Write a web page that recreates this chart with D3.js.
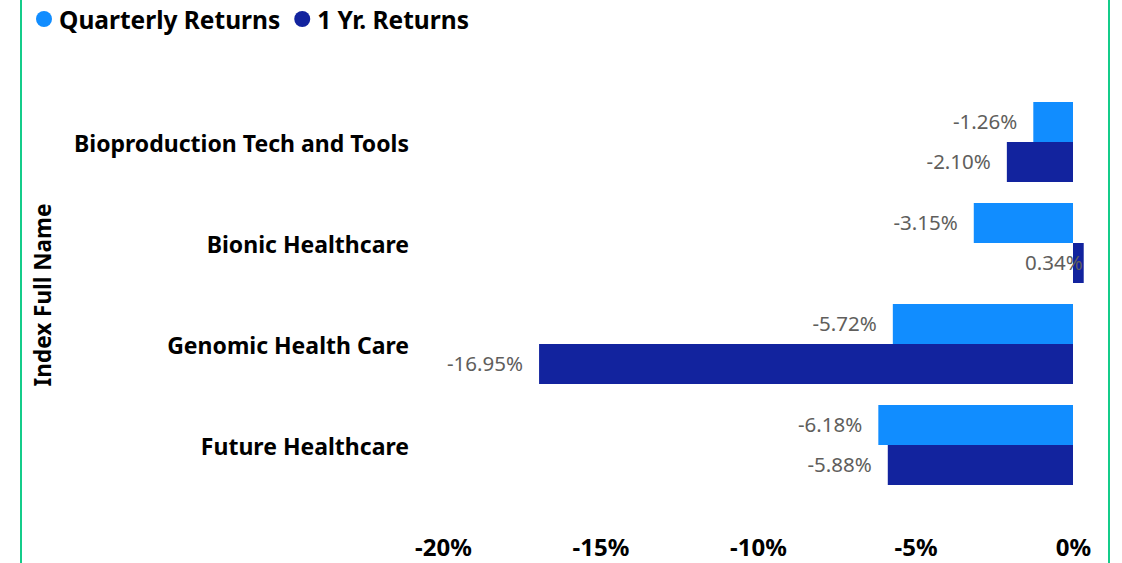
<!DOCTYPE html>
<html>
<head>
<meta charset="utf-8">
<script src="https://cdn.jsdelivr.net/npm/d3@7"></script>
<style>
	body { margin: 0; background: #fff; }
	svg { display: block; }
	text { font-family: 'Segoe UI', 'Noto Sans', sans-serif; }
</style>
</head>
<body>
<svg id="main_svg"></svg>
<script>
const WIDTH = 1122;
const HEIGHT = 563;
const MARGIN_LEFT = 443;
const PLOT_WIDTH = 630;
const MARGIN_TOP = 91.5;
const MARGIN_BOTTOM = 67.5;

const categories = ['Bioproduction Tech and Tools', 'Bionic Healthcare', 'Genomic Health Care', 'Future Healthcare'];
const series = ['Quarterly Returns', '1 Yr. Returns'];
const quarterly = [-1.26, -3.15, -5.72, -6.18];
const yearly = [-2.10, 0.34, -16.95, -5.88];
const x_ticks = [-20, -15, -10, -5, 0];
const colors = ['#118DFF', '#12239E'];

const svg = d3.select('#main_svg').attr('width', WIDTH).attr('height', HEIGHT);

// frame lines left and right
svg.append('line').attr('x1', 21).attr('x2', 21).attr('y1', 0).attr('y2', HEIGHT)
	.style('stroke', '#14CC8A').style('stroke-width', 2);
svg.append('line').attr('x1', 1109).attr('x2', 1109).attr('y1', 0).attr('y2', HEIGHT)
	.style('stroke', '#14CC8A').style('stroke-width', 2);

const x_scale = d3.scaleLinear()
	.domain([-20, 0])
	.range([MARGIN_LEFT, MARGIN_LEFT + PLOT_WIDTH]);

const y_scale = d3.scaleBand()
	.domain(categories)
	.range([MARGIN_TOP, HEIGHT - MARGIN_BOTTOM])
	.paddingInner(0.208)
	.paddingOuter(0.104);

const sub_scale = d3.scaleBand()
	.domain(series)
	.range([0, y_scale.bandwidth()]);

// Zip data
const dataset = categories.map((c, i) => ({cat: c, values: [quarterly[i], yearly[i]]}));

const groups = svg.selectAll('.cat')
	.data(dataset)
	.enter()
	.append('g')
	.attr('class', 'cat')
	.attr('transform', d => `translate(0,${y_scale(d.cat)})`);

groups.selectAll('rect')
	.data(d => d.values.map((v, i) => ({s: series[i], v: v, i: i})))
	.enter()
	.append('rect')
	.attr('x', d => x_scale(Math.min(0, d.v)))
	.attr('y', d => sub_scale(d.s))
	.attr('width', d => Math.abs(x_scale(d.v) - x_scale(0)))
	.attr('height', sub_scale.bandwidth())
	.style('fill', d => colors[d.i]);

groups.selectAll('.lbl')
	.data(d => d.values.map((v, i) => ({s: series[i], v: v, i: i})))
	.enter()
	.append('text')
	.attr('class', 'lbl')
	.attr('x', d => d.v < 0 ? x_scale(d.v) - 16 : x_scale(d.v) - 1)
	.attr('y', d => sub_scale(d.s) + sub_scale.bandwidth() / 2)
	.attr('dy', '0.35em')
	.attr('text-anchor', 'end')
	.attr('font-size', '20.5px')
	.style('fill', '#605E5C')
	.text(d => d.v.toFixed(2) + '%');

// category labels
const y_axis = svg.append('g')
	.attr('transform', `translate(409,0)`)
	.call(d3.axisLeft(y_scale).tickSize(0).tickPadding(0));
y_axis.select('.domain').remove();
y_axis.selectAll('text')
	.attr('dy', '0.42em')
	.attr('font-size', '23px')
	.attr('font-weight', 'bold')
	.style('font-family', "'Segoe UI', 'Noto Sans', sans-serif")
	.style('fill', '#000');

// x axis tick labels
const x_axis = svg.append('g')
	.attr('transform', `translate(0,${HEIGHT - MARGIN_BOTTOM})`)
	.call(d3.axisBottom(x_scale).tickValues(x_ticks).tickSize(0).tickPadding(43)
		.tickFormat(d => d + '%'));
x_axis.select('.domain').remove();
x_axis.selectAll('text')
	.attr('font-size', '24px')
	.attr('font-weight', 'bold')
	.style('font-family', "'Segoe UI', 'Noto Sans', sans-serif")
	.style('fill', '#000');

// y axis title
svg.append('text')
	.attr('transform', `translate(42, 295) rotate(-90)`)
	.attr('text-anchor', 'middle')
	.attr('dominant-baseline', 'central')
	.attr('font-size', '22.5px')
	.attr('font-weight', 'bold')
	.text('Index Full Name');

// legend
const legend = svg.append('g');
let lx = 44;
series.forEach((s, i) => {
	legend.append('circle').attr('cx', lx).attr('cy', 19).attr('r', 8).style('fill', colors[i]);
	const t = legend.append('text')
		.attr('x', lx + 15)
		.attr('y', 19)
		.attr('dominant-baseline', 'central')
		.attr('font-size', '24.5px')
		.attr('font-weight', 'bold')
		.text(s);
	lx += 15 + t.node().getComputedTextLength() + 22;
});
</script>
</body>
</html>
